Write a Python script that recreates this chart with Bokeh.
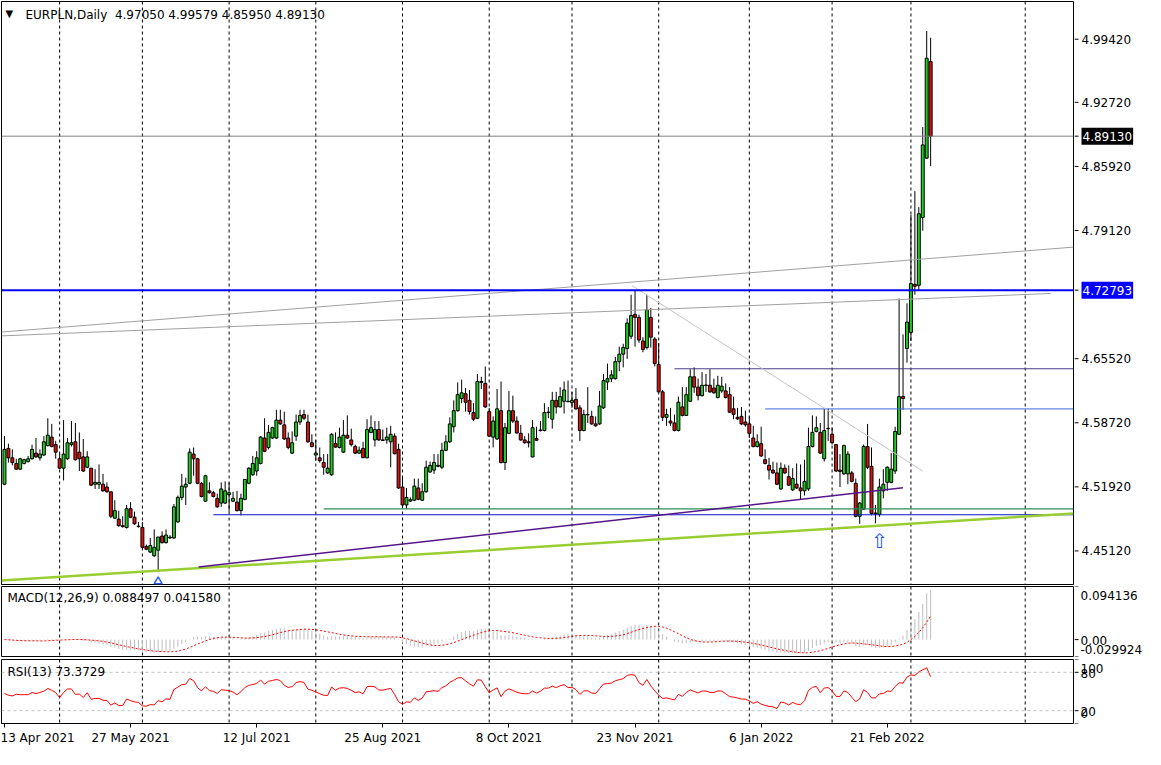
import numpy as np
import pandas as pd
from bokeh.plotting import figure
from bokeh.layouts import column, row
from bokeh.models import Range1d, FixedTicker, Label, Span, ColumnDataSource
from bokeh.embed import file_html
from bokeh.resources import INLINE
from bokeh.core.properties import value

FONT = "DejaVu Sans"
FS = "12px"

# ---------------- data ----------------
title_text = "EURPLN,Daily\u00a0 4.97050 4.99579 4.85950 4.89130"
first_date = "2021-04-13"

opens = [
    4.522, 4.560, 4.550, 4.544, 4.538, 4.544, 4.546, 4.549, 4.555, 4.550,
    4.553, 4.563, 4.572, 4.564, 4.549, 4.539, 4.549, 4.564, 4.567, 4.556,
    4.551, 4.540, 4.539, 4.522, 4.522, 4.522, 4.519, 4.514, 4.486, 4.485,
    4.478, 4.476, 4.496, 4.487, 4.4775, 4.476, 4.456, 4.450, 4.446, 4.452,
    4.467, 4.460, 4.4650, 4.465, 4.482, 4.508, 4.519, 4.523, 4.554, 4.549,
    4.523, 4.504, 4.515, 4.513, 4.507, 4.502, 4.502, 4.511, 4.504, 4.503,
    4.494, 4.506, 4.523, 4.532, 4.536, 4.544, 4.571, 4.561, 4.571, 4.571,
    4.590, 4.585, 4.571, 4.555, 4.573, 4.588, 4.596, 4.588, 4.566, 4.553,
    4.550, 4.545, 4.534, 4.532, 4.565, 4.561, 4.556, 4.574, 4.569, 4.562,
    4.555, 4.560, 4.550, 4.577, 4.569, 4.580, 4.569, 4.569, 4.567, 4.573,
    4.559, 4.519, 4.500, 4.5041, 4.505, 4.518, 4.505, 4.514, 4.535, 4.537,
    4.541, 4.540, 4.558, 4.567, 4.583, 4.600, 4.613, 4.618, 4.611, 4.598,
    4.592, 4.631, 4.629, 4.599, 4.572, 4.570, 4.600, 4.545, 4.576, 4.600,
    4.589, 4.576, 4.569, 4.5670, 4.551, 4.5705, 4.5789, 4.579, 4.598, 4.591,
    4.611, 4.604, 4.610, 4.6096, 4.6085, 4.612, 4.603, 4.579, 4.5956, 4.594,
    4.586, 4.586, 4.603, 4.6305, 4.634, 4.634, 4.652, 4.660, 4.666, 4.679,
    4.702, 4.699, 4.674, 4.667, 4.699, 4.676, 4.649, 4.620, 4.593, 4.589,
    4.587, 4.579, 4.604, 4.595, 4.610, 4.636, 4.625, 4.616, 4.6268, 4.627,
    4.624, 4.614, 4.621, 4.621, 4.617, 4.602, 4.593, 4.594, 4.588, 4.586,
    4.571, 4.562, 4.565, 4.548, 4.542, 4.537, 4.534, 4.517, 4.539, 4.530,
    4.516, 4.522, 4.518, 4.515, 4.517, 4.562, 4.578, 4.577, 4.549, 4.5809,
    4.575, 4.564, 4.537, 4.533, 4.533, 4.534, 4.523, 4.488, 4.4955, 4.562,
    4.541, 4.4915, 4.490, 4.515, 4.524, 4.524, 4.536, 4.575, 4.615, 4.666,
    4.683, 4.734, 4.733, 4.805, 4.868, 4.97050,
]
highs = [
    4.573, 4.565, 4.559, 4.549, 4.550, 4.549, 4.552, 4.564, 4.571, 4.559,
    4.573, 4.592, 4.586, 4.568, 4.554, 4.590, 4.571, 4.589, 4.587, 4.577,
    4.570, 4.557, 4.539, 4.538, 4.543, 4.533, 4.524, 4.514, 4.505, 4.494,
    4.488, 4.500, 4.503, 4.493, 4.482, 4.482, 4.458, 4.465, 4.474, 4.466,
    4.472, 4.474, 4.468, 4.501, 4.510, 4.533, 4.529, 4.560, 4.561, 4.550,
    4.524, 4.532, 4.524, 4.515, 4.512, 4.524, 4.525, 4.524, 4.514, 4.515,
    4.512, 4.527, 4.540, 4.552, 4.557, 4.573, 4.592, 4.585, 4.583, 4.601,
    4.601, 4.599, 4.577, 4.578, 4.596, 4.601, 4.601, 4.596, 4.575, 4.569,
    4.561, 4.554, 4.554, 4.576, 4.577, 4.582, 4.590, 4.595, 4.581, 4.564,
    4.562, 4.567, 4.591, 4.595, 4.589, 4.589, 4.580, 4.582, 4.584, 4.576,
    4.565, 4.530, 4.518, 4.508, 4.528, 4.528, 4.523, 4.547, 4.546, 4.554,
    4.554, 4.566, 4.574, 4.593, 4.611, 4.630, 4.633, 4.624, 4.622, 4.608,
    4.639, 4.636, 4.647, 4.603, 4.594, 4.623, 4.631, 4.587, 4.621, 4.616,
    4.594, 4.585, 4.573, 4.576, 4.590, 4.583, 4.589, 4.608, 4.604, 4.620,
    4.620, 4.625, 4.631, 4.632, 4.620, 4.624, 4.606, 4.601, 4.625, 4.600,
    4.594, 4.621, 4.639, 4.650, 4.643, 4.657, 4.668, 4.671, 4.698, 4.723,
    4.728, 4.702, 4.678, 4.723, 4.709, 4.678, 4.672, 4.622, 4.602, 4.603,
    4.596, 4.615, 4.625, 4.625, 4.644, 4.646, 4.634, 4.641, 4.639, 4.644,
    4.634, 4.637, 4.636, 4.629, 4.625, 4.615, 4.603, 4.604, 4.600, 4.594,
    4.584, 4.575, 4.583, 4.559, 4.550, 4.546, 4.545, 4.545, 4.543, 4.542,
    4.539, 4.544, 4.543, 4.548, 4.582, 4.595, 4.594, 4.587, 4.603, 4.602,
    4.582, 4.564, 4.554, 4.564, 4.557, 4.536, 4.528, 4.503, 4.564, 4.586,
    4.561, 4.500, 4.528, 4.538, 4.541, 4.555, 4.583, 4.719, 4.681, 4.714,
    4.808, 4.833, 4.816, 4.901, 5.003, 4.99579,
]
lows = [
    4.521, 4.545, 4.542, 4.537, 4.537, 4.543, 4.545, 4.548, 4.550, 4.547,
    4.552, 4.562, 4.561, 4.549, 4.538, 4.526, 4.548, 4.562, 4.547, 4.536,
    4.535, 4.539, 4.520, 4.517, 4.517, 4.514, 4.513, 4.486, 4.485, 4.477,
    4.476, 4.475, 4.486, 4.479, 4.476, 4.453, 4.452, 4.449, 4.445, 4.429,
    4.459, 4.459, 4.464, 4.464, 4.481, 4.505, 4.500, 4.522, 4.531, 4.522,
    4.508, 4.503, 4.512, 4.508, 4.497, 4.498, 4.501, 4.493, 4.503, 4.493,
    4.489, 4.505, 4.522, 4.531, 4.531, 4.543, 4.556, 4.559, 4.570, 4.570,
    4.585, 4.569, 4.559, 4.554, 4.568, 4.585, 4.590, 4.566, 4.561, 4.547,
    4.545, 4.532, 4.533, 4.531, 4.5607, 4.560, 4.555, 4.570, 4.562, 4.554,
    4.554, 4.5495, 4.5495, 4.576, 4.562, 4.568, 4.568, 4.565, 4.540, 4.5537,
    4.517, 4.499, 4.496, 4.503, 4.504, 4.505, 4.5045, 4.513, 4.534, 4.533,
    4.540, 4.538, 4.557, 4.566, 4.577, 4.599, 4.608, 4.599, 4.596, 4.589,
    4.591, 4.623, 4.603, 4.572, 4.561, 4.569, 4.544, 4.537, 4.575, 4.587,
    4.5757, 4.568, 4.565, 4.561, 4.5505, 4.568, 4.578, 4.578, 4.592, 4.581,
    4.597, 4.6035, 4.597, 4.609, 4.603, 4.601, 4.568, 4.578, 4.587, 4.585,
    4.583, 4.585, 4.602, 4.622, 4.6305, 4.633, 4.642, 4.646, 4.655, 4.676,
    4.668, 4.672, 4.662, 4.665, 4.667, 4.647, 4.6195, 4.589, 4.584, 4.584,
    4.578, 4.578, 4.594, 4.5945, 4.6095, 4.619, 4.611, 4.615, 4.620, 4.619,
    4.618, 4.613, 4.619, 4.613, 4.5977, 4.591, 4.590, 4.585, 4.583, 4.571,
    4.561, 4.561, 4.551, 4.543, 4.527, 4.533, 4.521, 4.516, 4.533, 4.520,
    4.515, 4.517, 4.5055, 4.510, 4.515, 4.561, 4.577, 4.554, 4.546, 4.568,
    4.564, 4.535, 4.519, 4.532, 4.522, 4.524, 4.487, 4.480, 4.495, 4.538,
    4.489, 4.4805, 4.4875, 4.507, 4.515, 4.523, 4.533, 4.5745, 4.601, 4.651,
    4.674, 4.723, 4.728, 4.791, 4.867, 4.85950,
]
closes = [
    4.559, 4.550, 4.545, 4.538, 4.549, 4.548, 4.549, 4.559, 4.551, 4.554,
    4.567, 4.574, 4.562, 4.556, 4.539, 4.554, 4.566, 4.566, 4.548, 4.549,
    4.536, 4.551, 4.521, 4.524, 4.524, 4.515, 4.514, 4.488, 4.494, 4.478,
    4.477, 4.496, 4.487, 4.480, 4.4770, 4.455, 4.453, 4.457, 4.455, 4.466,
    4.460, 4.468, 4.4658, 4.498, 4.508, 4.520, 4.522, 4.556, 4.549, 4.523,
    4.509, 4.531, 4.513, 4.509, 4.498, 4.517, 4.515, 4.513, 4.507, 4.494,
    4.507, 4.527, 4.539, 4.544, 4.550, 4.572, 4.557, 4.577, 4.582, 4.590,
    4.586, 4.570, 4.561, 4.566, 4.588, 4.595, 4.592, 4.567, 4.562, 4.555,
    4.547, 4.540, 4.539, 4.575, 4.5614, 4.572, 4.574, 4.571, 4.564, 4.555,
    4.558, 4.5502, 4.580, 4.582, 4.580, 4.569, 4.5685, 4.572, 4.575, 4.5544,
    4.518, 4.500, 4.508, 4.5055, 4.520, 4.506, 4.514, 4.540, 4.542, 4.545,
    4.542, 4.558, 4.567, 4.586, 4.600, 4.617, 4.619, 4.609, 4.599, 4.591,
    4.631, 4.630, 4.604, 4.573, 4.589, 4.602, 4.545, 4.582, 4.600, 4.589,
    4.5764, 4.569, 4.566, 4.5660, 4.582, 4.5687, 4.5795, 4.598, 4.5985, 4.611,
    4.604, 4.615, 4.622, 4.6100, 4.611, 4.602, 4.579, 4.596, 4.5960, 4.586,
    4.584, 4.605, 4.632, 4.634, 4.638, 4.652, 4.660, 4.667, 4.693, 4.701,
    4.699, 4.675, 4.665, 4.707, 4.678, 4.650, 4.620, 4.593, 4.596, 4.587,
    4.579, 4.609, 4.595, 4.617, 4.636, 4.625, 4.616, 4.627, 4.6272, 4.620,
    4.619, 4.627, 4.626, 4.614, 4.5984, 4.596, 4.5914, 4.586, 4.585, 4.576,
    4.562, 4.567, 4.552, 4.544, 4.537, 4.534, 4.522, 4.539, 4.534, 4.521,
    4.528, 4.518, 4.515, 4.525, 4.562, 4.577, 4.582, 4.555, 4.579, 4.5813,
    4.566, 4.536, 4.5355, 4.563, 4.554, 4.525, 4.488, 4.502, 4.562, 4.540,
    4.491, 4.4905, 4.519, 4.522, 4.540, 4.538, 4.578, 4.615, 4.613, 4.694,
    4.735, 4.732, 4.809, 4.882, 4.974, 4.89130,
]

price_ticks = [4.45120, 4.51920, 4.58720, 4.65520, 4.79120, 4.85920, 4.92720, 4.99420]
bid_price = 4.89130
resistance_price = 4.72793

# horizontal levels drawn on the chart (price, first bar)
level_prices = [4.6445, 4.6019, 4.4959, 4.4896]
level_start = [170, 193, 81, 53]

# trend lines (bar index / price at both ends)
trend_i0 = [-0.75, -0.75, 159.25, -0.75, 49.25]
trend_p0 = [4.6835, 4.6794, 4.7327, 4.4198, 4.4341]
trend_i1 = [271.25, 265.5, 233.0, 271.25, 228.0]
trend_p1 = [4.7736, 4.7244, 4.5360, 4.4910, 4.5182]

# arrow objects
caret_idx = [39]
caret_price = [4.4188]
hollow_arrow_idx = [222]
hollow_arrow_price = [4.4617]

future_grid_idx = [259]

rsi_head = [46.8, 44.2, 43.0, 45.7, 45.0, 45.0, 45.0, 48.4, 46.8, 48.4, 50.5, 54.7, 52.0]
rsi_period = 13
macd_label = "MACD(12,26,9) 0.088497 0.041580"
rsi_label = "RSI(13) 73.3729"
macd_axis_values = [0.094136, 0.0, -0.029924]
macd_axis_text = ["0.094136", "0.00", "-0.029924"]
rsi_axis_values = [100, 80, 20, 0]
rsi_axis_text = ["100", "80", "20", "0"]
rsi_levels = [20, 80]

# ---------------- styles ----------------
BULL = "#22CC22"
BEAR = "#DD1111"
level_colors = ["#483D8B", "#3A6AE0", "#2E8B57", "#0A14C8"]
level_widths = [1, 1, 1.2, 1.2]
trend_colors = ["#A0A0A0", "#A0A0A0", "#C4C4C4", "#9ACD32", "#55168A"]
trend_widths = [1, 1, 1, 2.5, 1.5]

# ---------------- derived ----------------
n = len(closes)
xs = np.arange(n)
dates = pd.bdate_range(first_date, periods=n)
o = np.array(opens); h = np.array(highs); l = np.array(lows); c = np.array(closes)

grid_idx = [i for i in range(1, n) if dates[i].month != dates[i - 1].month] + future_grid_idx
label_idx = list(range(0, n, 32))
label_text = {i: f"{dates[i].day} {dates[i]:%b %Y}" for i in label_idx}

s = pd.Series(c)
macd = (s.ewm(span=12, adjust=False).mean() - s.ewm(span=26, adjust=False).mean()).values
signal = pd.Series(macd).rolling(9, min_periods=1).mean().values

d = np.diff(c)
gain = np.clip(d, 0, None)
loss = np.clip(-d, 0, None)
P = rsi_period
rsi = np.full(n, np.nan)
rsi[:len(rsi_head)] = rsi_head
ag = gain[:P].mean(); al = loss[:P].mean()
rsi[P] = 100 * ag / (ag + al)
for i in range(P + 1, n):
    ag = (ag * (P - 1) + gain[i - 1]) / P
    al = (al * (P - 1) + loss[i - 1]) / P
    rsi[i] = 100 * ag / (ag + al) if (ag + al) > 0 else 50.0

# ---------------- figures ----------------
X0, X1 = -0.75, 271.25
xr = Range1d(X0, X1)
PW = 1074   # panel width (frame 1072)
AW = 71     # right price-scale width


def make_panel(height, yr, top, bottom, x_axis=None):
    f = figure(width=PW, height=height, x_range=xr, y_range=yr,
               x_axis_location=x_axis, y_axis_location=None,
               output_backend="svg", toolbar_location=None,
               min_border_left=1, min_border_right=1,
               min_border_top=top, min_border_bottom=bottom)
    f.outline_line_color = "black"
    f.outline_line_width = 1
    f.background_fill_color = "white"
    f.border_fill_color = "white"
    f.xgrid.grid_line_color = None
    f.ygrid.grid_line_color = None
    for g in grid_idx:
        f.add_layout(Span(location=g, dimension="height", line_color="black",
                          line_width=1, line_dash="3 3", level="underlay"))
    return f


def make_scale(height, yr, top, bottom):
    f = figure(width=AW, height=height, x_range=Range1d(0, AW), y_range=yr,
               x_axis_location=None, y_axis_location=None,
               output_backend="svg", toolbar_location=None,
               min_border_left=0, min_border_right=0,
               min_border_top=top, min_border_bottom=bottom)
    f.outline_line_color = None
    f.background_fill_color = "white"
    f.border_fill_color = "white"
    f.xgrid.grid_line_color = None
    f.ygrid.grid_line_color = None
    return f


def add_label(f, x, y, text, xo=0, yo=0, align="left", color="black", bg=None, size=FS, pad=None):
    kw = dict(x=x, y=y, x_offset=xo, y_offset=yo, text=text, text_font=FONT,
              text_font_size=size, text_color=color, text_align=align, text_baseline="middle")
    if bg is not None:
        kw["background_fill_color"] = bg
    if pad is not None:
        kw["padding"] = pad
    f.add_layout(Label(**kw))


def add_ticks(f, vals):
    f.segment(x0=[0] * len(vals), y0=vals, x1=[4] * len(vals), y1=vals, line_color="black", line_width=1)


# ---- main price panel
YMIN, YMAX = 4.4156, 5.0342
yr_main = Range1d(YMIN, YMAX)
main = make_panel(585, yr_main, 1, 1)

src = ColumnDataSource(dict(x=xs, h=h, l=l, top=np.maximum(o, c), bot=np.minimum(o, c),
                            col=np.where(c >= o, BULL, BEAR)))
main.segment(x0="x", y0="l", x1="x", y1="h", source=src, line_color="black", line_width=1)
main.vbar(x="x", width=0.75, top="top", bottom="bot", source=src,
          fill_color="col", line_color="black", line_width=1)

lsrc = ColumnDataSource(dict(x0=level_start, x1=[X1] * len(level_prices), y=level_prices,
                             col=level_colors, w=level_widths))
main.segment(x0="x0", y0="y", x1="x1", y1="y", source=lsrc, line_color="col", line_width="w")

tsrc = ColumnDataSource(dict(x0=trend_i0, y0=trend_p0, x1=trend_i1, y1=trend_p1,
                             col=trend_colors, w=trend_widths))
main.segment(x0="x0", y0="y0", x1="x1", y1="y1", source=tsrc, line_color="col", line_width="w")

main.add_layout(Span(location=bid_price, dimension="width", line_color="#808080", line_width=1))
main.add_layout(Span(location=resistance_price, dimension="width", line_color="#0000FF", line_width=2))

main.scatter(x=caret_idx, y=caret_price, marker="triangle", size=8, fill_color=None,
             line_color="#2F5BFF", line_width=1.5)
main.text(x=hollow_arrow_idx, y=hollow_arrow_price, text=["\u21e7"], text_font=value(FONT),
          text_font_size="20px", text_color="#1F4FFF", text_align="center", text_baseline="middle")

add_label(main, X0, YMAX, "\u25bc", xo=4, yo=-12, size="10px")
add_label(main, X0, YMAX, title_text, xo=24, yo=-13)

main_scale = make_scale(585, yr_main, 1, 1)
add_ticks(main_scale, price_ticks + [bid_price, resistance_price])
for v in price_ticks:
    add_label(main_scale, 7, v, f"{v:.5f}")
add_label(main_scale, 7, bid_price, f"{bid_price:.5f}", color="white", bg="black", pad=(1, 4))
add_label(main_scale, 7, resistance_price, f"{resistance_price:.5f}", color="white", bg="#0000FF", pad=(1, 4))

# ---- MACD panel
MMAX, MMIN = macd_axis_values[0], macd_axis_values[-1]
yr_macd = Range1d(MMIN, MMAX)
macd_f = make_panel(72, yr_macd, 1, 1)
msrc = ColumnDataSource(dict(x=xs, m=macd, s=signal, z=np.zeros(n)))
macd_f.segment(x0="x", y0="z", x1="x", y1="m", source=msrc, line_color="#BDBDBD", line_width=1)
macd_f.line(x="x", y="s", source=msrc, line_color="red", line_width=1, line_dash="2 2")
add_label(macd_f, X0, MMAX, macd_label, xo=6, yo=-11)

macd_scale = make_scale(72, yr_macd, 1, 1)
add_ticks(macd_scale, macd_axis_values)
for v, t, yo in zip(macd_axis_values, macd_axis_text, [-9, -1, 7]):
    add_label(macd_scale, 6, v, t, yo=yo)

# ---- RSI panel
yr_rsi = Range1d(0, 100)
rsi_f = make_panel(92, yr_rsi, 2, 26, x_axis="below")
for lv in rsi_levels:
    rsi_f.add_layout(Span(location=lv, dimension="width", line_color="#C0C0C0",
                          line_width=1, line_dash="3 3"))
rsi_f.line(x=xs, y=rsi, line_color="red", line_width=1)
add_label(rsi_f, X0, 100, rsi_label, xo=6, yo=-12)

xa = rsi_f.xaxis[0]
xa.ticker = FixedTicker(ticks=label_idx)
xa.major_label_overrides = label_text
xa.major_label_text_align = "left"
xa.major_label_text_font = FONT
xa.major_label_text_font_size = FS
xa.major_label_text_color = "black"
xa.major_tick_out = 4
xa.major_tick_in = 0
xa.major_label_standoff = 3
xa.minor_tick_line_color = None
xa.axis_line_color = "black"

rsi_scale = make_scale(92, yr_rsi, 2, 26)
add_ticks(rsi_scale, rsi_axis_values)
for v, t, yo in zip(rsi_axis_values, rsi_axis_text, [-9, -1, -1, 10]):
    add_label(rsi_scale, 6, v, t, yo=yo)

layout = column(row(main, main_scale, spacing=0),
                row(macd_f, macd_scale, spacing=0),
                row(rsi_f, rsi_scale, spacing=0), spacing=0)
open("out.html", "w").write(file_html(layout, INLINE))
